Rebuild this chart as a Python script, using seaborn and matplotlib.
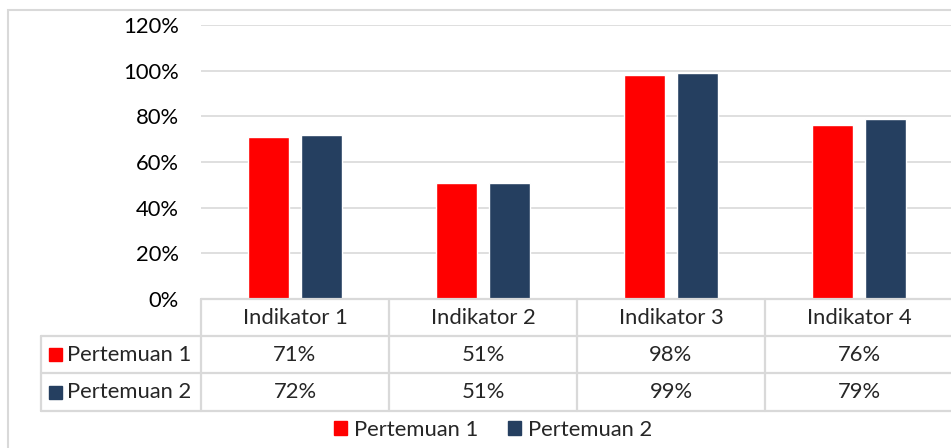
import matplotlib
matplotlib.use("Agg")
import matplotlib.pyplot as plt
import matplotlib.transforms as mtransforms
from matplotlib.patches import Rectangle
from matplotlib.lines import Line2D
import seaborn as sns
import pandas as pd

categories = ["Indikator 1", "Indikator 2", "Indikator 3", "Indikator 4"]
series_names = ["Pertemuan 1", "Pertemuan 2"]
pertemuan1 = [71, 51, 98, 76]
pertemuan2 = [72, 51, 99, 79]
yticks = [0, 20, 40, 60, 80, 100, 120]
colors = ["#FF0000", "#253F60"]

sns.set_theme(style="white")
plt.rcParams["font.family"] = ["Lato", "DejaVu Sans"]

W, H = 951, 448
DPI = 100
fig = plt.figure(figsize=(W / DPI, H / DPI), dpi=DPI)

def fx(px):
    return px / W

def fy(py):
    return 1 - py / H

# plot area: x 201..953, y 25..299 px
ax = fig.add_axes([fx(201), fy(299), fx(953) - fx(201), fy(25) - fy(299)])

df = pd.DataFrame({
    "cat": categories * 2,
    "series": [series_names[0]] * 4 + [series_names[1]] * 4,
    "val": pertemuan1 + pertemuan2,
})
sns.barplot(data=df, x="cat", y="val", hue="series", palette=colors,
            width=0.564, gap=0.21, ax=ax, legend=False, saturation=1)

fs = 15.8
ax.set_ylim(0, 120)
ax.set_xlim(-0.5, len(categories) - 0.5)
ax.set_yticks(yticks)
ax.set_yticklabels([f"{t}%" for t in yticks], fontsize=fs, color="#000000")
ax.tick_params(axis="y", length=0, pad=16)
ax.set_xticks([])
ax.set_xlabel("")
ax.set_ylabel("")
ax.grid(axis="y", color="#D9D9D9", linewidth=1.2)
ax.set_axisbelow(True)
for s in ax.spines.values():
    s.set_visible(False)

# chart border
fig.patches.append(Rectangle((fx(8), fy(470)), fx(1000) - fx(8), fy(10) - fy(470),
                             transform=fig.transFigure, fill=False,
                             edgecolor="#D9D9D9", linewidth=1.5))

# data table
trans = mtransforms.blended_transform_factory(ax.transData, fig.transFigure)
line_kw = dict(color="#D9D9D9", linewidth=1.6)
row_y = [299, 336, 373, 411]
n = len(categories)
fig.add_artist(Line2D([-0.5, n - 0.5], [fy(299), fy(299)], transform=trans, **line_kw))
for yy in row_y[1:]:
    fig.add_artist(Line2D([fx(41), fx(953)], [fy(yy), fy(yy)], transform=fig.transFigure, **line_kw))
for i in range(n + 1):
    b = i - 0.5
    fig.add_artist(Line2D([b, b], [fy(299), fy(411)], transform=trans, **line_kw))
fig.add_artist(Line2D([fx(41), fx(41)], [fy(336), fy(411)], transform=fig.transFigure, **line_kw))

for i, c in enumerate(categories):
    fig.text(i, fy((299 + 336) / 2), c, transform=trans, ha="center", va="center", fontsize=fs)
for r, (vals, name, col) in enumerate(zip([pertemuan1, pertemuan2], series_names, colors)):
    yc = fy((row_y[r + 1] + row_y[r + 2]) / 2)
    for i, v in enumerate(vals):
        fig.text(i, yc, f"{v}%", transform=trans, ha="center", va="center", fontsize=fs)
    fig.patches.append(Rectangle((fx(49), yc - 6.5 / H), fx(13), 13 / H,
                                 transform=fig.transFigure, color=col))
    fig.text(fx(67), yc, name, ha="left", va="center", fontsize=fs)

# legend
handles = [Rectangle((0, 0), 1, 1, color=c) for c in colors]
fig.legend(handles, series_names, loc="center", bbox_to_anchor=(fx(493), fy(430)),
           ncol=2, frameon=False, fontsize=fs, handlelength=0.62, handleheight=0.62,
           handletextpad=0.3, columnspacing=1.35, borderaxespad=0)

fig.savefig("out.png", dpi=DPI)
